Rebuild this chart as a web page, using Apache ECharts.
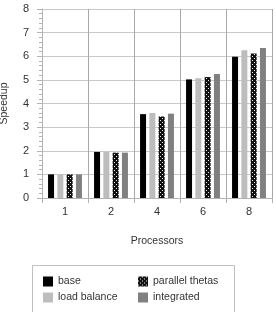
<!DOCTYPE html>
<html>
<head>
<meta charset="utf-8">
<script src="https://cdn.jsdelivr.net/npm/echarts@6/dist/echarts.min.js"></script>
<style>
html, body { margin: 0; padding: 0; background: #fff; }
#chart { width: 276px; height: 312px; }
</style>
</head>
<body>
<div id="chart"></div>
<script>
// processor counts and speedups
const processors = ['1', '2', '4', '6', '8'];
const baseData = [1.0, 1.95, 3.55, 5.02, 5.98];
const loadBalanceData = [1.0, 1.95, 3.6, 5.07, 6.25];
const parallelThetasData = [1.0, 1.92, 3.45, 5.12, 6.12];
const integratedData = [1.0, 1.92, 3.57, 5.25, 6.35];
const yTicks = [0, 1, 2, 3, 4, 5, 6, 7, 8];

// little dotted tile for the "parallel thetas" bars
function dotPattern() {
    let c = document.createElement('canvas');
    c.width = 4;
    c.height = 4;
    let ctx = c.getContext('2d');
    ctx.fillStyle = '#111';
    ctx.fillRect(0, 0, 4, 4);
    ctx.fillStyle = '#eee';
    ctx.fillRect(0, 0, 1, 1);
    ctx.fillRect(2, 2, 1, 1);
    return c;
}

let chart = echarts.init(document.getElementById('chart'));
const font = 'Liberation Sans, Arial, sans-serif';
const textColor = '#333';
const gridColor = '#c8c8c8';

function bar(name, data, color) {
    return {
        name: name,
        type: 'bar',
        data: data,
        barWidth: 6,
        barGap: '55%',
        itemStyle: { color: color },
        emphasis: { disabled: true }
    };
}

function legendBlock(left, names) {
    return {
        orient: 'vertical',
        left: left,
        top: 276,
        padding: 0,
        itemWidth: 10,
        itemHeight: 10,
        itemGap: 5,
        icon: 'rect',
        textStyle: { color: textColor, fontSize: 10.5, fontFamily: font },
        data: names
    };
}

let option = {
    animation: false,
    textStyle: { fontFamily: font },
    grid: { left: 42, right: 4, top: 9, bottom: 114, outerBoundsMode: 'none', containLabel: false },
    xAxis: {
        type: 'category',
        data: processors,
        name: 'Processors',
        nameLocation: 'middle',
        nameGap: 38,
        nameTextStyle: { color: textColor, fontSize: 10.5, fontFamily: font },
        axisLine: { lineStyle: { color: '#b3b3b3' } },
        axisTick: { show: true, length: 5, lineStyle: { color: '#b3b3b3' } },
        axisLabel: { color: textColor, fontSize: 11, margin: 8, fontFamily: font },
        splitLine: { show: true, lineStyle: { color: '#a8a8a8', width: 1, opacity: 1 } }
    },
    yAxis: {
        type: 'value',
        min: yTicks[0],
        max: yTicks[yTicks.length - 1],
        interval: 1,
        name: 'Speedup',
        nameLocation: 'middle',
        nameGap: 32,
        nameTextStyle: { color: textColor, fontSize: 10.5, fontFamily: font },
        axisLine: { show: true, lineStyle: { color: '#b3b3b3' } },
        axisTick: { show: true, length: 5, lineStyle: { color: '#b3b3b3' } },
        minorTick: { show: true, splitNumber: 5, length: 3, lineStyle: { color: '#b3b3b3' } },
        axisLabel: { color: textColor, fontSize: 11, margin: 13, fontFamily: font },
        splitLine: { show: true, lineStyle: { color: gridColor } }
    },
    legend: [
        legendBlock(43, ['base', 'load balance']),
        legendBlock(138, ['parallel thetas', 'integrated'])
    ],
    graphic: [{
        type: 'rect',
        shape: { x: 32.5, y: 265.5, width: 202, height: 60 },
        style: { fill: 'none', stroke: '#c0c0c0', lineWidth: 1 },
        z: -1
    }],
    series: [
        bar('base', baseData, '#000'),
        bar('load balance', loadBalanceData, '#bdbdbd'),
        bar('parallel thetas', parallelThetasData, { image: dotPattern(), repeat: 'repeat' }),
        bar('integrated', integratedData, '#808080')
    ]
};

chart.setOption(option);
</script>
</body>
</html>
